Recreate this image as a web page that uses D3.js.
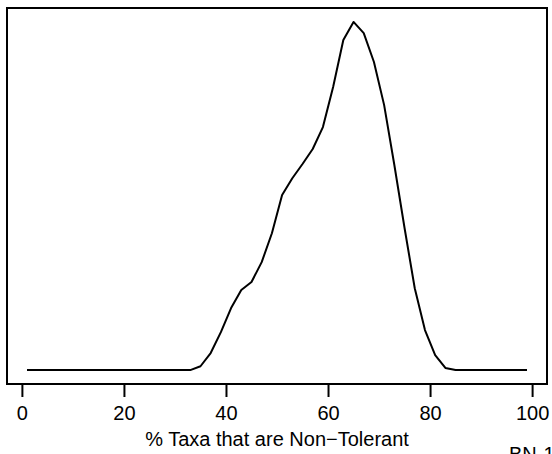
<!DOCTYPE html>
<html>
<head>
<meta charset="utf-8">
<script src="https://cdn.jsdelivr.net/npm/d3@7"></script>
<style>
  html, body { margin: 0; padding: 0; background: #fff; }
  svg { display: block; }
  text { font-family: "Liberation Sans", Arial, Helvetica, sans-serif; }
</style>
</head>
<body>
<div id="chart"></div>
<script>
// Data: density estimate (relative) of % taxa that are non-tolerant
const xValues = [1,3,5,7,9,11,13,15,17,19,21,23,25,27,29,31,33,35,37,39,41,43,45,47,49,51,53,55,57,59,61,63,65,67,69,71,73,75,77,79,81,83,85,87,89,91,93,95,97,99];
const density = [0,0,0,0,0,0,0,0,0,0,0,0,0,0,0,0,0,0.011,0.049,0.109,0.178,0.230,0.253,0.310,0.393,0.503,0.551,0.592,0.635,0.698,0.813,0.948,1.0,0.968,0.885,0.761,0.589,0.408,0.235,0.115,0.043,0.006,0,0,0,0,0,0,0,0];
const xTicks = [0,20,40,60,80,100];
const xTitle = "% Taxa that are Non\u2212Tolerant";
const footText = "BN-1";

const W = 552, H = 454;
const box = {left: 7, top: 8, right: 547, bottom: 384};
const FONT = "20px";

const svg = d3.select("#chart").append("svg")
  .attr("width", W).attr("height", H);

const xMin = d3.min(xValues), xMax = d3.max(xValues);
const xPad = (xMax - xMin) * 0.04;
const x = d3.scaleLinear().domain([xMin - xPad, xMax + xPad]).range([box.left, box.right]);
const yMin = d3.min(density), yMax = d3.max(density);
const yPad = (yMax - yMin) * 0.04;
const y = d3.scaleLinear().domain([yMin - yPad, yMax + yPad]).range([box.bottom, box.top]);

// curve
const pts = xValues.map((v, i) => [v, density[i]]);
svg.append("path")
  .datum(pts)
  .attr("fill", "none")
  .attr("stroke", "#000")
  .attr("stroke-width", 2)
  .attr("stroke-linejoin", "round")
  .attr("d", d3.line().x(d => x(d[0])).y(d => y(d[1])));

// box
svg.append("rect")
  .attr("x", box.left).attr("y", box.top)
  .attr("width", box.right - box.left).attr("height", box.bottom - box.top)
  .attr("fill", "none").attr("stroke", "#000").attr("stroke-width", 2);

// x axis
const axis = d3.axisBottom(x).tickValues(xTicks).tickSize(13).tickPadding(0).tickFormat(d3.format("d"));
const g = svg.append("g").attr("transform", `translate(0,${box.bottom})`).call(axis);
g.select(".domain").attr("stroke", "#000").attr("stroke-width", 2).attr("d", `M${x(0)},0H${x(100)}`);
g.selectAll(".tick line").attr("stroke", "#000").attr("stroke-width", 2);
g.selectAll(".tick text")
  .attr("y", 36).attr("dy", null)
  .attr("fill", "#000")
  .style("font-size", FONT)
  .style("font-family", "'Liberation Sans', Arial, sans-serif");

// axis title
svg.append("text")
  .attr("x", (box.left + box.right) / 2).attr("y", 446)
  .attr("text-anchor", "middle")
  .style("font-size", FONT)
  .attr("fill", "#000")
  .text(xTitle);

// footer text (partly below the page edge, as in the reference)
svg.append("text")
  .attr("x", 509).attr("y", 461)
  .style("font-size", FONT)
  .attr("fill", "#000")
  .text(footText);
</script>
</body>
</html>
